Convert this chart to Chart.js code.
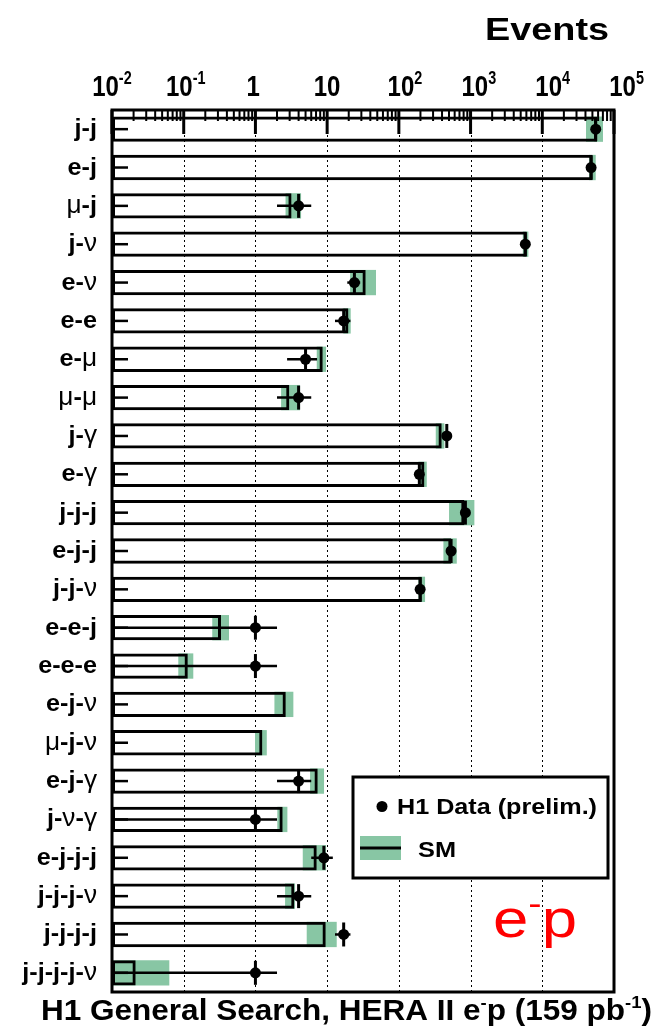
<!DOCTYPE html>
<html>
<head>
<meta charset="utf-8">
<script src="https://cdn.jsdelivr.net/npm/chart.js@4.4.1/dist/chart.umd.min.js"></script>
<style>
  html, body { margin: 0; padding: 0; background: #fff; }
  #wrap { width: 659px; height: 1029px; position: relative; }
</style>
</head>
<body>
<div id="wrap"><canvas id="chart"></canvas></div>
<script>
// event classes, top to bottom
const channels = ['j-j', 'e-j', 'μ-j', 'j-ν', 'e-ν', 'e-e', 'e-μ', 'μ-μ', 'j-γ', 'e-γ',
  'j-j-j', 'e-j-j', 'j-j-ν', 'e-e-j', 'e-e-e', 'e-j-ν', 'μ-j-ν', 'e-j-γ', 'j-ν-γ',
  'e-j-j-j', 'j-j-j-ν', 'j-j-j-j', 'j-j-j-j-ν'];

// SM expectation and its uncertainty band
const smExpect = [58000, 50500, 3.19, 6080, 34.5, 19.8, 8.68, 2.97, 396, 227,
  820, 540, 209, 0.331, 0.114, 2.65, 1.25, 7.39, 2.40, 7.16, 3.49, 9.56, 0.0214];
const smLow = [40700, 44800, 2.63, 5350, 20.9, 16.8, 7.16, 2.28, 327, 187,
  501, 418, 187, 0.25, 0.084, 1.84, 0.986, 5.78, 2.02, 4.57, 2.59, 5.19, 0.01];
const smHigh = [70300, 55600, 4.33, 6400, 48, 21.3, 9.66, 4.19, 431, 245,
  1130, 642, 232, 0.428, 0.136, 3.38, 1.44, 9.05, 2.79, 9.66, 3.57, 13.6, 0.063];

// observed H1 events (null = none observed)
const h1Data = [55600, 47900, 4, 5800, 24, 17, 5, 4, 466, 193,
  847, 535, 198, 1, 1, null, null, 4, 1, 9, 4, 17, 1];

const decadeTicks = [0.01, 0.1, 1, 10, 100, 1000, 10000, 100000];
const decadeLabels = [['10', '-2'], ['10', '-1'], ['1', ''], ['10', ''], ['10', '2'], ['10', '3'], ['10', '4'], ['10', '5']];

const GREEN = 'rgb(136,198,164)';
const BOLD = 'bold {s}px "Liberation Sans", Arial, sans-serif';
const PLAIN = '{s}px "Liberation Sans", Arial, sans-serif';
function bold(s) { return BOLD.replace('{s}', s); }
function plain(s) { return PLAIN.replace('{s}', s); }

function measureRuns(ctx, runs) {
  let w = 0;
  runs.forEach(r => { ctx.font = r.font; r.w = ctx.measureText(r.text).width; w += r.w; });
  return w;
}

// draws a list of text runs starting at x (left), stretched horizontally by sx
function drawRuns(ctx, runs, x, y, sx, color) {
  measureRuns(ctx, runs);
  ctx.save();
  ctx.translate(x, y);
  ctx.scale(sx, 1);
  ctx.textAlign = 'left';
  ctx.textBaseline = 'alphabetic';
  ctx.fillStyle = color || '#000';
  let cx = 0;
  runs.forEach(r => {
    ctx.font = r.font;
    ctx.fillText(r.text, cx, r.dy || 0);
    cx += r.w;
  });
  ctx.restore();
}

function fitRuns(ctx, runs, x0, x1, y, color) {
  const w = measureRuns(ctx, runs);
  drawRuns(ctx, runs, x0, y, (x1 - x0) / w, color);
}

function labelRuns(label) {
  const runs = [];
  for (const ch of label) {
    const greek = 'μνγ'.includes(ch);
    runs.push({ text: ch, font: greek ? plain(25) : bold(24) });
  }
  return runs;
}

const decor = {
  id: 'decor',
  beforeDatasetsDraw(chart) {
    const { ctx, chartArea: a } = chart;
    const xs = chart.scales.x;
    ctx.save();
    ctx.strokeStyle = '#000';
    ctx.lineWidth = 1;
    ctx.setLineDash([2, 3]);
    decadeTicks.slice(1, -1).forEach(v => {
      const x = Math.round(xs.getPixelForValue(v)) + 0.5;
      ctx.beginPath();
      ctx.moveTo(x, a.top);
      ctx.lineTo(x, a.bottom);
      ctx.stroke();
    });
    ctx.restore();
  },
  afterDatasetsDraw(chart) {
    const { ctx, chartArea: a } = chart;
    const xs = chart.scales.x;
    const ys = chart.scales.y;
    ctx.save();
    ctx.strokeStyle = '#000';
    ctx.fillStyle = '#000';

    // error bars on data
    h1Data.forEach((n, i) => {
      if (n === null) return;
      const cy = ys.getPixelForValue(i);
      const err = Math.sqrt(n);
      const lo = n - err > 0 ? xs.getPixelForValue(n - err) : a.left;
      const hi = xs.getPixelForValue(n + err);
      const x = xs.getPixelForValue(n);
      ctx.lineWidth = 2.5;
      ctx.beginPath();
      ctx.moveTo(lo, cy);
      ctx.lineTo(hi, cy);
      ctx.stroke();
      ctx.lineWidth = 3;
      ctx.beginPath();
      ctx.moveTo(x, cy - 12);
      ctx.lineTo(x, cy + 12);
      ctx.stroke();
    });

    // category ticks on the left axis
    ctx.lineWidth = 2.5;
    channels.forEach((c, i) => {
      const cy = ys.getPixelForValue(i);
      ctx.beginPath();
      ctx.moveTo(a.left, cy);
      ctx.lineTo(a.left + 16, cy);
      ctx.stroke();
    });

    // log ticks along the top
    for (let d = -2; d <= 4; d++) {
      for (let m = 2; m <= 9; m++) {
        const x = xs.getPixelForValue(m * Math.pow(10, d));
        ctx.lineWidth = 2;
        ctx.beginPath();
        ctx.moveTo(x, a.top);
        ctx.lineTo(x, a.top + 11);
        ctx.stroke();
      }
    }
    decadeTicks.forEach(v => {
      const x = xs.getPixelForValue(v);
      ctx.lineWidth = 3;
      ctx.beginPath();
      ctx.moveTo(x, a.top);
      ctx.lineTo(x, a.top + 24);
      ctx.stroke();
    });

    // frame
    ctx.lineWidth = 3;
    ctx.strokeRect(a.left, a.top, a.right - a.left, a.bottom - a.top);

    // tick labels
    decadeTicks.forEach((v, k) => {
      const px = xs.getPixelForValue(v);
      const cx = 105.5 + (px - a.left) * 1.03;
      const base = decadeLabels[k][0];
      const sup = decadeLabels[k][1];
      const runs = [{ text: base, font: bold(30) }];
      if (sup) runs.push({ text: sup, font: bold(18), dy: -12 });
      ctx.font = bold(30);
      const bw = ctx.measureText(base).width * 0.8;
      drawRuns(ctx, runs, cx - bw / 2, 96, 0.8);
    });

    // category labels
    channels.forEach((c, i) => {
      const cy = ys.getPixelForValue(i);
      const runs = labelRuns(c);
      const w = measureRuns(ctx, runs) * 1.05;
      drawRuns(ctx, runs, 97 - w, cy + 7, 1.05);
    });

    // titles
    fitRuns(ctx, [{ text: 'Events', font: bold(31) }], 485, 609, 40);
    fitRuns(ctx, [
      { text: 'H1 General Search, HERA II e', font: bold(29) },
      { text: '-', font: bold(17), dy: -12 },
      { text: 'p (159 pb', font: bold(29) },
      { text: '-1', font: bold(17), dy: -12 },
      { text: ')', font: bold(29) }
    ], 41, 652, 1020);

    // legend
    ctx.fillStyle = '#fff';
    ctx.fillRect(353, 777, 255, 101);
    ctx.lineWidth = 3;
    ctx.strokeRect(353, 777, 255, 101);
    ctx.fillStyle = '#000';
    ctx.beginPath();
    ctx.arc(382, 806.5, 5.5, 0, Math.PI * 2);
    ctx.fill();
    fitRuns(ctx, [{ text: 'H1 Data (prelim.)', font: bold(22) }], 397, 597, 814);
    ctx.fillStyle = GREEN;
    ctx.fillRect(360, 836, 41, 24);
    ctx.beginPath();
    ctx.moveTo(360, 848);
    ctx.lineTo(401, 848);
    ctx.stroke();
    fitRuns(ctx, [{ text: 'SM', font: bold(22) }], 418, 456, 857);

    // beam label
    fitRuns(ctx, [
      { text: 'e', font: plain(54) },
      { text: '-', font: plain(34), dy: -22 },
      { text: 'p', font: plain(54) }
    ], 493, 577, 937, '#ff0000');

    ctx.restore();
  }
};

const bandData = smLow.map((lo, i) => [lo, smHigh[i]]);

new Chart(document.getElementById('chart'), {
  type: 'bar',
  data: {
    labels: channels,
    datasets: [
      {
        label: 'SM uncertainty',
        data: bandData,
        indexAxis: 'y',
        backgroundColor: GREEN,
        borderWidth: 0,
        grouped: false,
        barPercentage: 0.66,
        categoryPercentage: 1,
        order: 3
      },
      {
        label: 'SM',
        data: smExpect,
        indexAxis: 'y',
        backgroundColor: 'rgba(0,0,0,0)',
        borderColor: '#000',
        borderWidth: 3,
        borderSkipped: false,
        grouped: false,
        barPercentage: 0.66,
        categoryPercentage: 1,
        order: 2
      },
      {
        type: 'line',
        label: 'H1 Data (prelim.)',
        data: h1Data,
        indexAxis: 'y',
        showLine: false,
        pointRadius: 5.5,
        pointBackgroundColor: '#000',
        pointBorderWidth: 0,
        order: 1
      }
    ]
  },
  options: {
    indexAxis: 'y',
    responsive: true,
    maintainAspectRatio: false,
    animation: false,
    layout: { padding: { left: 112, right: 45, top: 110, bottom: 37 } },
    scales: {
      x: { type: 'logarithmic', min: 0.01, max: 100000, display: false },
      y: { type: 'category', display: false, offset: true }
    },
    plugins: {
      legend: { display: false },
      tooltip: { enabled: false }
    }
  },
  plugins: [decor]
});
</script>
</body>
</html>
